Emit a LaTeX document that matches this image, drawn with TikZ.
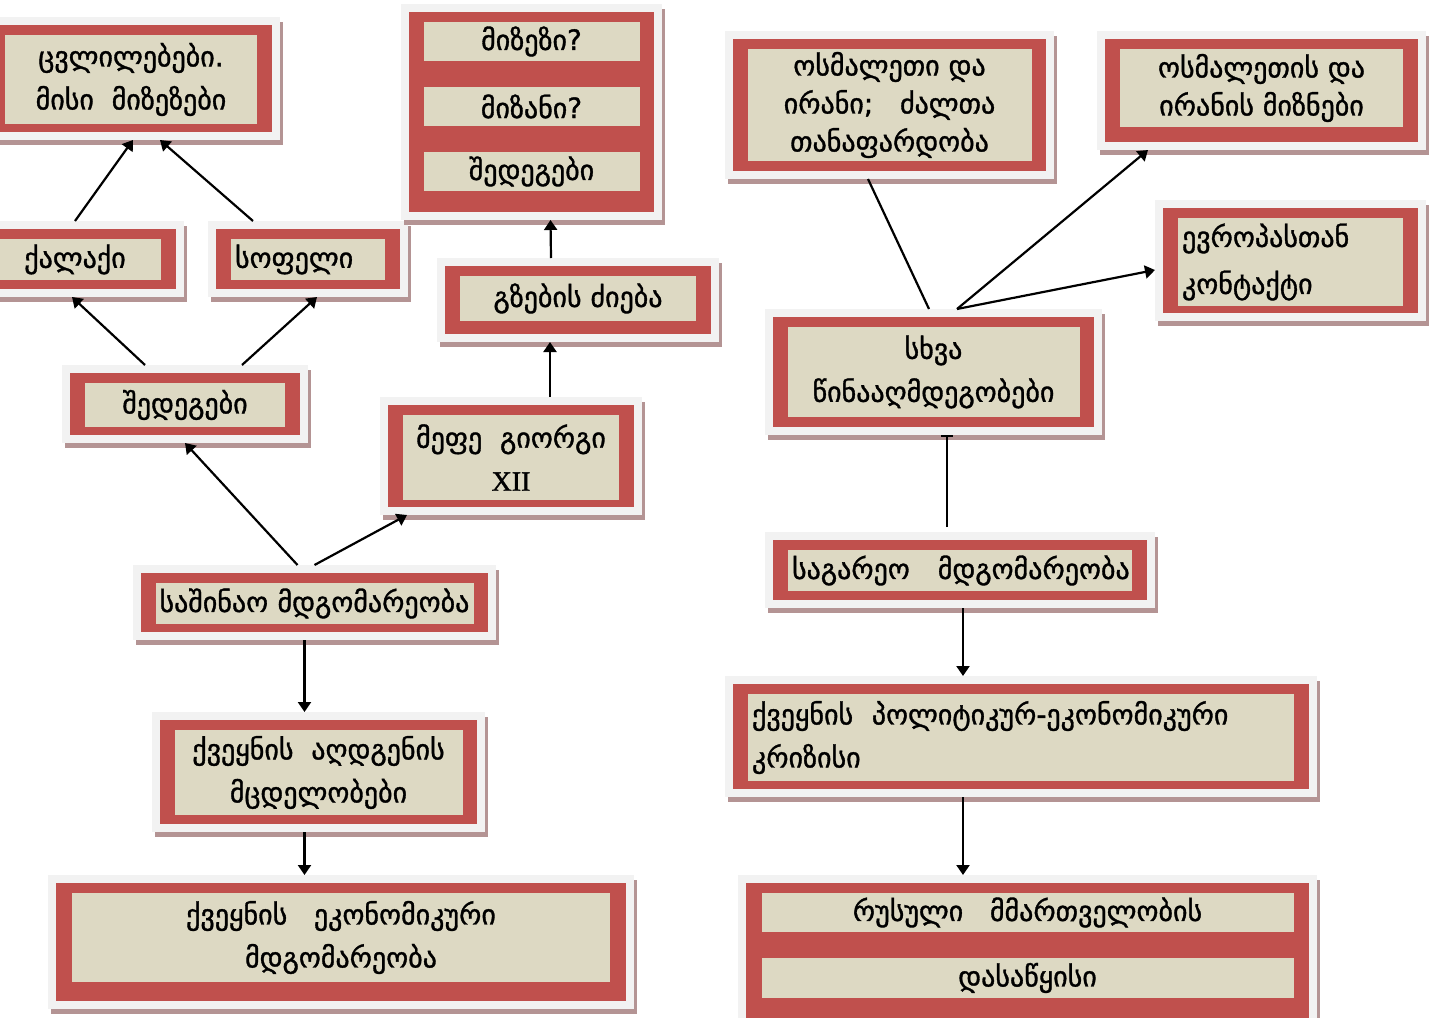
\documentclass[tikz,border=0pt]{standalone}
\usepackage{fontspec}
\setmainfont[FakeBold=1.2]{DejaVu Sans}
\newfontfamily\romfont[FakeBold=1.2]{Liberation Serif}
\usetikzlibrary{positioning,arrows.meta}
\definecolor{redc}{RGB}{192,80,77}
\definecolor{beige}{RGB}{221,217,195}
\definecolor{greyc}{RGB}{242,242,242}
\definecolor{shadowc}{RGB}{180,148,148}

\begin{document}
\begin{tikzpicture}[x=1pt,y=-1pt,panel/.style={
rectangle,inner sep=0pt,fill=redc, % red band + grey frame
draw=greyc,line width=8pt,
preaction={draw=shadowc,line width=8pt,transform canvas={shift={(3pt,-5pt)}}}},
card/.style={rectangle,fill=beige,inner xsep=4pt,inner ysep=0pt,outer sep=0pt,
align=center,font=\fontsize{28}{43}\selectfont}]

\tikzset{
  every edge/.append style = {line width=2.2pt,draw=black,-{Triangle[length=10pt,width=13pt]}}
}
    \useasboundingbox (0,0) rectangle (1429,1017);

    % left half
    \node[panel,minimum width=290,minimum height=115] at (131,78.5) (cvl) {};
    \node[card,minimum width=252,minimum height=89,below=18pt of cvl.north] (cvltext) {ცვლილებები.\\მისი~ მიზეზები};

    \node[panel,minimum width=210,minimum height=68] at (75,259) (kalaki) {};
    \node[card,minimum width=172,minimum height=41,below=18pt of kalaki.north] (kalakitext) {ქალაქი};

    \node[panel,minimum width=192,minimum height=68] at (308,259) (sopeli) {};
    \node[card,text width=146,align=left,minimum height=41,below=18pt of sopeli.north] (sopelitext) {სოფელი};

    \node[panel,minimum width=253,minimum height=208] at (531.5,112) (mizezi) {};
    \node[card,minimum width=216,minimum height=39,below=18pt of mizezi.north] (why) {მიზეზი?};
    \node[card,minimum width=216,minimum height=39,below=26pt of why] (aim) {მიზანი?};
    \node[card,minimum width=216,minimum height=39,below=26pt of aim] (result) {შედეგები};

    \node[panel,minimum width=274,minimum height=76] at (578,300) (gzebi) {};
    \node[card,minimum width=236,minimum height=45,below=18pt of gzebi.north] (gzebitext) {გზების ძიება};

    \node[panel,minimum width=238,minimum height=70] at (185,404) (shedegebi) {};
    \node[card,minimum width=200,minimum height=44,below=18pt of shedegebi.north] (shedtext) {შედეგები};

    \node[panel,minimum width=254,minimum height=110] at (511,456) (mefe) {};
    \node[card,minimum width=216,minimum height=85,below=18pt of mefe.north] (mefetext) {მეფე~ გიორგი\\{\romfont\fontsize{28}{43}\selectfont XII}};

    \node[panel,minimum width=355,minimum height=67] at (314.5,602.5) (shinao) {};
    \node[card,text width=310,align=left,minimum height=41,below=18pt of shinao.north] (shinaotext) {საშინაო მდგომარეობა};

    \node[panel,minimum width=325,minimum height=112] at (318.5,772) (aghdgena) {};
    \node[card,minimum width=288,minimum height=85,below=18pt of aghdgena.north] (aghdtext) {ქვეყნის~ აღდგენის\\მცდელობები};

    \node[panel,minimum width=578,minimum height=126] at (341,942) (ekonomika) {};
    \node[card,minimum width=538,minimum height=89,below=18pt of ekonomika.north] (ekontext) {ქვეყნის~~ ეკონომიკური\\მდგომარეობა};

    % right half
    \node[panel,minimum width=321,minimum height=140] at (889.5,105) (osmaleti) {};
    \node[card,minimum width=284,minimum height=112,below=18pt of osmaleti.north,font=\fontsize{28}{38}\selectfont] (osmtext) {ოსმალეთი და\\ირანი;~~ ძალთა\\თანაფარდობა};

    \node[panel,minimum width=321,minimum height=111] at (1261.5,90.5) (mizani) {};
    \node[card,minimum width=283,minimum height=78,below=18pt of mizani.north,font=\fontsize{28}{38}\selectfont] (mizanitext) {ოსმალეთის და\\ირანის მიზნები};

    \node[panel,minimum width=263,minimum height=113] at (1290.5,260.5) (evropa) {};
    \node[card,text width=217,align=left,minimum height=88,below=18pt of evropa.north,font=\fontsize{28}{47}\selectfont] (evrtext) {ევროპასთან\\კონტაქტი};

    \node[panel,minimum width=329,minimum height=118] at (933.5,372) (skhva) {};
    \node[card,minimum width=292,minimum height=90,below=18pt of skhva.north] (skhvatext) {სხვა\\წინააღმდეგობები};

    \node[panel,minimum width=382,minimum height=68] at (960,570) (sagareo) {};
    \node[card,text width=336,align=left,minimum height=41,below=18pt of sagareo.north] (sagtext) {საგარეო~~ მდგომარეობა};

    \node[panel,minimum width=584,minimum height=113] at (1021,736.5) (krizisi) {};
    \node[card,text width=538,align=left,minimum height=87,below=18pt of krizisi.north] (kriztext) {ქვეყნის~ პოლიტიკურ-ეკონომიკური\\კრიზისი};

    \node[panel,minimum width=571,minimum height=165] at (1027.5,961.5) (rusuli) {};
    \node[card,minimum width=532,minimum height=39,below=18pt of rusuli.north] (rule) {რუსული~~ მმართველობის};
    \node[card,minimum width=532,minimum height=40,below=26pt of rule] (start) {დასაწყისი};

    \draw
        (kalaki.north) edge ([xshift=2pt]cvl.south)
        ([xshift=-55pt]sopeli.north) edge ([xshift=29pt]cvl.south)
        ([xshift=-40pt]shedegebi.north) edge ([xshift=-3pt]kalaki.south)
        ([xshift=57pt]shedegebi.north) edge ([xshift=9pt]sopeli.south)
        ([xshift=-17pt]shinao.north) edge (shedegebi.south)
        (shinao.north) edge ([xshift=-104pt]mefe.south)
        ([xshift=39pt]mefe.north) edge ([xshift=-28pt]gzebi.south)
        ([xshift=-27pt]gzebi.north) edge ([xshift=19pt]mizezi.south)
        ([xshift=-10pt]shinao.south) edge ([xshift=-14pt]aghdgena.north)
        ([xshift=-14pt]aghdgena.south) edge ([xshift=-36.5pt]ekonomika.north);
    \draw
        ([xshift=-21.5pt]osmaleti.south) edge[-] ([xshift=-4.5pt]skhva.north)
        ([xshift=23.5pt]skhva.north) edge ([xshift=-113.5pt]mizani.south)
        ([xshift=23.5pt]skhva.north) edge ([yshift=-9.5pt]evropa.west)
        ([xshift=-13pt,yshift=5pt]sagareo.north) edge[-{Bar[width=12pt]}] ([xshift=13.5pt]skhva.south)
        ([xshift=3pt]sagareo.south) edge ([xshift=-58pt]krizisi.north)
        ([xshift=-58pt]krizisi.south) edge ([xshift=-64.5pt]rusuli.north);
    %\draw (osmaleti) edge[] (skhva);

\end{tikzpicture}
\end{document}
